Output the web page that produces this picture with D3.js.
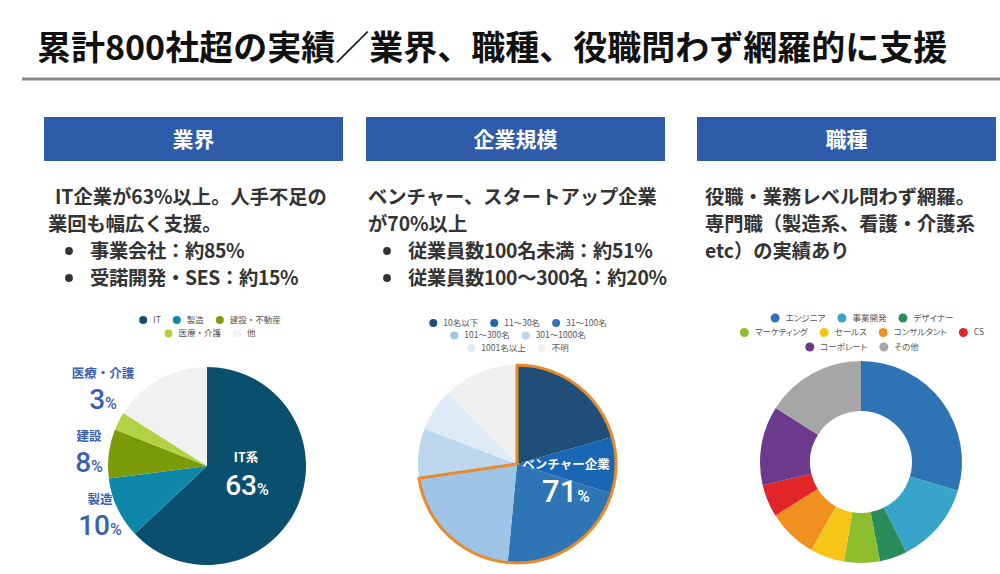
<!DOCTYPE html>
<html><head><meta charset="utf-8">
<script src="https://cdn.jsdelivr.net/npm/d3@7/dist/d3.min.js"></script>
<style>
html,body{margin:0;padding:0;background:#fff;}
svg{display:block;font-family:"Noto Sans CJK JP","Noto Sans",sans-serif;}
</style></head>
<body><svg id="c" width="1000" height="574"></svg>
<script>
// ---- data ----
const titleText = "累計800社超の実績／業界、職種、役職問わず網羅的に支援";
const sectionTitles = ["業界", "企業規模", "職種"];

const industryLabels = ["IT", "製造", "建設・不動産", "医療・介護", "他"];
const industryValues = [63, 10, 8, 3, 16];
const industryColors = ["#0b4f6e", "#0e87a8", "#7b9c08", "#b2d145", "#f1f1f1"];

const sizeLabels = ["10名以下", "11～30名", "31～100名", "101～300名", "301～1000名", "1001名以上", "不明"];
const sizeValues = [20.6, 9.2, 21.7, 21.2, 8.1, 7.0, 12.2];
const sizeColors = ["#1f4e79", "#1866b4", "#2e75b6", "#9dc3e6", "#bdd7ee", "#deebf7", "#f0f0f0"];
const ventureCount = 4; // first 4 size groups = venture

const jobLabels = ["エンジニア", "事業開発", "デザイナー", "マーケティング", "セールス", "コンサルタント", "CS", "コーポレート", "その他"];
const jobValues = [29.6, 13.0, 4.4, 5.7, 5.5, 7.9, 5.2, 12.7, 16.0];
const jobColors = ["#2e74b5", "#37a4ca", "#2a8c5b", "#8cbd2c", "#f6c518", "#f0901f", "#e1262a", "#6b3a8c", "#a6a6a6"];

const text1 = ["IT企業が63%以上。人手不足の", "業回も幅広く支援。"];
const bullets1 = ["事業会社：約85%", "受諾開発・SES：約15%"];
const text2 = ["ベンチャー、スタートアップ企業", "が70%以上"];
const bullets2 = ["従業員数100名未満：約51%", "従業員数100～300名：約20%"];
const text3 = ["役職・業務レベル問わず網羅。", "専門職（製造系、看護・介護系", "etc）の実績あり"];

// ---- drawing ----
const svg = d3.select("#c");
const textColor = "#333";
const blue = "#2e5ca8";
const labelBlue = "#3b5fb3";

svg.append("text").attr("x", 37).attr("y", 60)
  .attr("font-size", 34).attr("font-weight", 700).attr("fill", "#111")
  .text(titleText);
svg.append("line").attr("x1", 22).attr("x2", 1000).attr("y1", 79).attr("y2", 79)
  .attr("stroke", "#8a8a8a").attr("stroke-width", 3);

const boxX = [44, 366, 697];
sectionTitles.forEach((t, i) => {
  svg.append("rect").attr("x", boxX[i]).attr("y", 117).attr("width", 299).attr("height", 44)
    .attr("fill", blue);
  svg.append("text").attr("x", boxX[i] + 149.5).attr("y", 147)
    .attr("text-anchor", "middle").attr("font-size", 21).attr("font-weight", 700)
    .attr("fill", "#fff").text(t);
});

function block(lines, bullets, x0, firstX, bulletX, textX) {
  const g = svg.append("g").attr("font-size", 19.3).attr("font-weight", 700).attr("fill", textColor);
  lines.forEach((l, i) => {
    g.append("text").attr("x", i === 0 ? firstX : x0).attr("y", 204 + i * 27).text(l);
  });
  bullets.forEach((b, i) => {
    const y = 204 + (lines.length + i) * 27;
    g.append("circle").attr("cx", bulletX).attr("cy", y - 7).attr("r", 3.9).attr("fill", textColor);
    g.append("text").attr("x", textX).attr("y", y).style("letter-spacing", "-0.3px").text(b);
  });
}
block(text1, bullets1, 48, 55, 69, 90);
block(text2, bullets2, 368, 368, 387, 408);
block(text3, [], 705, 705, 0, 0);

// legend
function legend(labels, colors, rows, cx, y0, dy, r, fs, palt) {
  const g = svg.append("g").attr("font-size", fs).attr("fill", "#555");
  if (palt) g.style("font-feature-settings", "'palt'");
  rows.forEach((row, ri) => {
    const rg = g.append("g");
    let x = 0;
    row.forEach(idx => {
      rg.append("circle").attr("cx", x + r).attr("cy", 0).attr("r", r).attr("fill", colors[idx]);
      const t = rg.append("text").attr("x", x + 2 * r + 6).attr("y", fs * 0.35).text(labels[idx]);
      const w = t.node().getComputedTextLength();
      x += 2 * r + 6 + w + 12;
    });
    x -= 12;
    rg.attr("transform", `translate(${cx - x / 2},${y0 + ri * dy})`);
  });
}

// chart 1: industry pie
const pie = d3.pie().sort(null).value(d => d);
const c1 = {x: 207, y: 466, r: 99};
const g1 = svg.append("g").attr("transform", `translate(${c1.x},${c1.y})`);
const arc1 = d3.arc().innerRadius(0).outerRadius(c1.r);
g1.selectAll("path").data(pie(industryValues)).join("path")
  .attr("d", arc1).attr("fill", (d, i) => industryColors[i]);
legend(industryLabels, industryColors, [[0, 1, 2], [3, 4]], 210, 320, 13.5, 4, 8.5, false);

function pctLabel(parent, x, y, num, size, color, pctSize) {
  const t = parent.append("text").attr("x", x).attr("y", y).attr("text-anchor", "middle")
    .attr("fill", color).attr("font-family", "Roboto, 'Noto Sans', sans-serif").attr("font-weight", 500);
  t.append("tspan").attr("font-size", size).text(num);
  t.append("tspan").attr("font-size", pctSize).text("%");
  return t;
}
// inner label IT
g1.append("text").attr("x", 39).attr("y", -4).attr("text-anchor", "middle")
  .attr("font-size", 12.5).attr("font-weight", 700).attr("fill", "#fff").text("IT系");
pctLabel(g1, 40, 29, industryValues[0], 28, "#fff", 16);
// side labels
const sideLabels = [
  {name: "医療・介護", v: industryValues[3], y: -88, x: -104},
  {name: "建設", v: industryValues[2], y: -25, x: -118},
  {name: "製造", v: industryValues[1], y: 38, x: -107}
];
sideLabels.forEach(s => {
  g1.append("text").attr("x", s.x).attr("y", s.y).attr("text-anchor", "middle")
    .attr("font-size", 12.5).attr("font-weight", 700).attr("fill", labelBlue).text(s.name);
  pctLabel(g1, s.x, s.y + 31, s.v, 28, labelBlue, 16);
});

// chart 2: company size pie
const c2 = {x: 517, y: 464, r: 99};
const g2 = svg.append("g").attr("transform", `translate(${c2.x},${c2.y})`);
const arc2 = d3.arc().innerRadius(0).outerRadius(c2.r);
const p2 = pie(sizeValues);
g2.selectAll("path.s").data(p2).join("path").attr("class", "s")
  .attr("d", arc2).attr("fill", (d, i) => sizeColors[i]);
const ventureEnd = p2[ventureCount - 1].endAngle;
g2.append("path")
  .attr("d", d3.arc().innerRadius(0).outerRadius(c2.r)({startAngle: 0, endAngle: ventureEnd}))
  .attr("fill", "none").attr("stroke", "#e8892b").attr("stroke-width", 3).attr("stroke-linejoin", "round");
g2.append("text").attr("x", 49).attr("y", 5).attr("text-anchor", "middle")
  .attr("font-size", 12.5).attr("font-weight", 700).attr("fill", "#fff").text("ベンチャー企業");
pctLabel(g2, 49, 38, 71, 31, "#fff", 17);
legend(sizeLabels, sizeColors, [[0, 1, 2], [3, 4], [5, 6]], 518, 323, 12.5, 4, 8.5, false);

// chart 3: job donut
const c3 = {x: 861, y: 462, r: 101, ir: 51};
const g3 = svg.append("g").attr("transform", `translate(${c3.x},${c3.y})`);
const arc3 = d3.arc().innerRadius(c3.ir).outerRadius(c3.r);
g3.selectAll("path").data(pie(jobValues)).join("path")
  .attr("d", arc3).attr("fill", (d, i) => jobColors[i]);
legend(jobLabels, jobColors, [[0, 1, 2], [3, 4, 5, 6], [7, 8]], 862, 318, 14.5, 4.5, 8.5, true);
</script></body></html>
